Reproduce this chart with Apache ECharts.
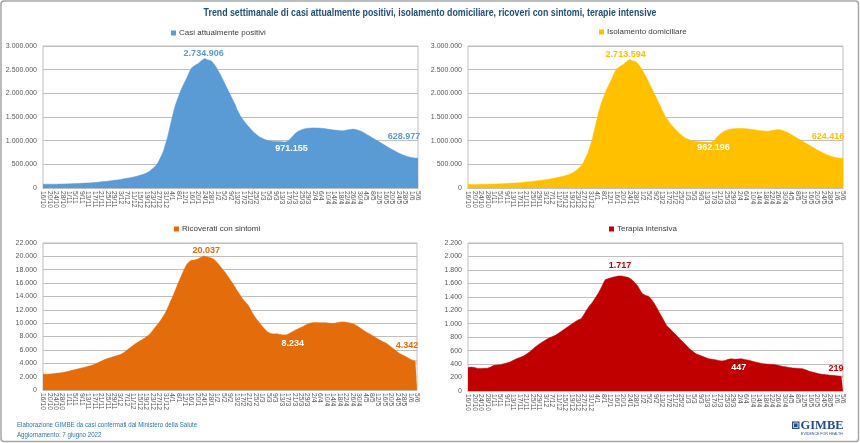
<!DOCTYPE html>
<html><head><meta charset="utf-8">
<script src="https://cdn.jsdelivr.net/npm/echarts@6/dist/echarts.min.js"></script>
<style>html,body{margin:0;padding:0;background:#fff}#c{width:860px;height:443px}</style>
</head><body><div id="c"></div>
<script>
const dates = [
'16/10','17/10','18/10','19/10','20/10','21/10','22/10','23/10','24/10','25/10','26/10','27/10','28/10','29/10','30/10','31/10',
'1/11','2/11','3/11','4/11','5/11','6/11','7/11','8/11','9/11','10/11','11/11','12/11','13/11','14/11','15/11','16/11','17/11','18/11','19/11','20/11','21/11','22/11','23/11','24/11','25/11','26/11','27/11','28/11','29/11','30/11',
'1/12','2/12','3/12','4/12','5/12','6/12','7/12','8/12','9/12','10/12','11/12','12/12','13/12','14/12','15/12','16/12','17/12','18/12','19/12','20/12','21/12','22/12','23/12','24/12','25/12','26/12','27/12','28/12','29/12','30/12','31/12',
'1/1','2/1','3/1','4/1','5/1','6/1','7/1','8/1','9/1','10/1','11/1','12/1','13/1','14/1','15/1','16/1','17/1','18/1','19/1','20/1','21/1','22/1','23/1','24/1','25/1','26/1','27/1','28/1','29/1','30/1','31/1',
'1/2','2/2','3/2','4/2','5/2','6/2','7/2','8/2','9/2','10/2','11/2','12/2','13/2','14/2','15/2','16/2','17/2','18/2','19/2','20/2','21/2','22/2','23/2','24/2','25/2','26/2','27/2','28/2',
'1/3','2/3','3/3','4/3','5/3','6/3','7/3','8/3','9/3','10/3','11/3','12/3','13/3','14/3','15/3','16/3','17/3','18/3','19/3','20/3','21/3','22/3','23/3','24/3','25/3','26/3','27/3','28/3','29/3','30/3','31/3',
'1/4','2/4','3/4','4/4','5/4','6/4','7/4','8/4','9/4','10/4','11/4','12/4','13/4','14/4','15/4','16/4','17/4','18/4','19/4','20/4','21/4','22/4','23/4','24/4','25/4','26/4','27/4','28/4','29/4','30/4',
'1/5','2/5','3/5','4/5','5/5','6/5','7/5','8/5','9/5','10/5','11/5','12/5','13/5','14/5','15/5','16/5','17/5','18/5','19/5','20/5','21/5','22/5','23/5','24/5','25/5','26/5','27/5','28/5','29/5','30/5','31/5',
'1/6','2/6','3/6','4/6','5/6'
];
const labelEvery = 4; // one date label every 4 days

const casiPositivi = [
80100,79600,79200,78900,78700,78800,79200,79800,80400,81000,
81900,82700,83600,84500,85400,86500,87600,88700,90000,91300,
92800,94300,95900,97600,99300,101200,103200,105300,107500,109800,
112200,114800,117500,120400,123400,126500,129800,133200,136800,140500,
144400,148500,152700,157100,161600,166300,171200,176300,181600,187100,
192800,198800,205000,211500,218200,225300,232700,240500,248800,257600,
267000,277300,288600,301000,316000,334000,356000,382000,410000,442000,
480000,530000,595000,665000,735000,835000,950000,1065000,1210000,1360000,
1500000,1640000,1760000,1860000,1950000,2040000,2120000,2190000,2260000,2330000,
2410000,2480000,2540000,2570000,2590000,2610000,2630000,2650000,2690000,2715000,
2734906,2720000,2705000,2712000,2690000,2660000,2610000,2560000,2500000,2440000,
2380000,2310000,2240000,2170000,2100000,2030000,1960000,1890000,1820000,1760000,
1660000,1600000,1530000,1480000,1430000,1390000,1340000,1300000,1265000,1230000,
1190000,1160000,1130000,1100000,1075000,1060000,1045000,1030000,1015000,1005000,
998000,995000,990000,986000,984000,985000,980000,977000,975000,973000,
971155,980000,1000000,1035000,1080000,1120000,1150000,1180000,1200000,1220000,
1232000,1243000,1252000,1258000,1262000,1265000,1268000,1270000,1270000,1268000,
1266000,1263000,1262000,1258000,1255000,1250000,1245000,1240000,1235000,1230000,
1225000,1222000,1218000,1215000,1212000,1210000,1212000,1218000,1225000,1232000,
1238000,1242000,1244000,1240000,1232000,1222000,1210000,1195000,1178000,1158000,
1138000,1118000,1097000,1075000,1055000,1035000,1015000,995000,975000,955000,
935000,915000,893000,872000,852000,832000,812000,793000,775000,758000,
741000,725000,710000,695000,682000,670000,660000,651000,644000,638000,
634000,631000,628977
];

const isolamentoDomiciliare = [
77370,76880,76490,76170,75960,76060,76440,77010,77580,78150,
79010,79780,80650,81510,82350,83370,84400,85440,86670,87910,
89350,90780,92320,93950,95580,97420,99350,101380,103500,105730,
108040,110550,113150,115940,118830,121790,124950,128220,131690,135270,
139060,143060,147170,151480,155890,160510,165320,170340,175540,180910,
186430,192240,198240,204540,211040,217940,225130,232750,240870,249500,
258750,268890,280030,292260,307090,324890,346660,372380,400070,431730,
469430,519090,583750,653360,722980,822540,937110,1051580,1196000,1345400,
1484820,1624230,1743590,1842940,1932290,2021690,2101140,2170580,2240070,2309610,
2389260,2459000,2518900,2548870,2568830,2588790,2608700,2628550,2668460,2693410,
2713594,2698390,2683440,2690540,2668630,2638760,2588930,2539170,2479460,2419770,
2360080,2290390,2220690,2151020,2081410,2011790,1942180,1872570,1802970,1743410,
1643850,1584300,1514690,1465080,1415450,1375770,1326000,1286330,1251750,1217220,
1177700,1148130,1118500,1088820,1064150,1049470,1034800,1020120,1005410,995660,
988850,985980,981060,977090,975080,976070,971120,968180,966230,964270,
962196,971270,991180,1026060,1070920,1110790,1140650,1170530,1190410,1210300,
1222180,1233050,1241910,1247780,1251670,1254580,1257510,1259460,1259420,1257400,
1255410,1252450,1251480,1247490,1244490,1239470,1234500,1229540,1224590,1219630,
1214640,1211610,1207550,1204500,1201450,1199420,1201400,1207420,1214450,1221500,
1227560,1231620,1233680,1229780,1221910,1212050,1200220,1185390,1168580,1148760,
1128950,1109060,1088180,1066310,1046440,1026610,1006770,986930,967080,947220,
927350,907480,885610,864740,844920,825110,805310,786500,768690,751880,
735070,719260,704390,689520,676660,664770,654910,646050,639190,633320,
629370,626410,624416
];

const ricoveratiConSintomi = [
2380,2370,2360,2370,2390,2400,2430,2460,2490,2520,
2550,2580,2610,2650,2700,2760,2820,2880,2940,3000,
3060,3120,3180,3240,3300,3360,3420,3480,3540,3600,
3680,3760,3850,3950,4060,4180,4300,4420,4530,4630,
4720,4800,4870,4940,5010,5080,5150,5220,5300,5420,
5580,5760,5950,6140,6330,6520,6710,6880,7040,7190,
7330,7470,7610,7760,7920,8100,8320,8580,8880,9200,
9500,9800,10100,10450,10800,11200,11600,12100,12650,13200,
13750,14300,14900,15500,16100,16650,17200,17750,18250,18700,
19050,19300,19400,19420,19450,19500,19600,19750,19850,19900,
20037,19950,19920,19850,19780,19680,19550,19350,19100,18800,
18500,18200,17900,17600,17250,16900,16550,16200,15850,15450,
15050,14650,14300,13950,13600,13300,13100,12800,12400,11950,
11500,11100,10750,10450,10150,9850,9550,9250,8980,8750,
8580,8470,8400,8380,8400,8420,8380,8320,8280,8250,
8234,8260,8350,8480,8620,8760,8900,9020,9140,9250,
9360,9480,9610,9740,9860,9950,10020,10070,10100,10120,
10110,10080,10060,10050,10060,10080,10060,10020,9980,9950,
9940,9980,10040,10100,10150,10180,10200,10180,10150,10100,
10050,10000,9940,9850,9720,9580,9420,9250,9070,8890,
8710,8600,8480,8350,8220,8060,7900,7740,7600,7470,
7350,7230,7100,6980,6800,6620,6430,6240,6060,5870,
5680,5500,5370,5240,5110,5000,4860,4720,4580,4460,
4410,4370,4342
];

const terapiaIntensiva = [
350,352,355,356,350,342,335,332,333,335,
337,339,340,342,355,370,381,384,387,389,
391,397,404,411,418,424,430,443,456,468,
480,489,498,506,515,530,546,563,579,600,
621,642,663,680,696,712,728,743,758,772,
787,797,807,817,827,843,859,875,891,908,
925,942,960,976,992,1009,1025,1040,1055,1068,
1074,1110,1150,1190,1225,1260,1290,1320,1355,1395,
1430,1470,1515,1565,1615,1658,1665,1672,1680,1688,
1693,1698,1703,1708,1717,1710,1705,1700,1695,1690,
1678,1662,1640,1615,1594,1560,1520,1480,1445,1430,
1420,1412,1406,1380,1345,1310,1272,1230,1185,1140,
1099,1055,1012,970,948,926,900,875,850,827,
800,775,752,728,705,680,655,629,610,590,
570,554,545,535,525,515,505,497,488,480,
476,472,468,465,460,455,451,447,449,452,
462,472,480,478,475,472,470,474,478,480,
476,470,465,460,455,449,442,436,430,425,
418,412,406,404,402,400,398,396,396,395,
390,385,380,375,370,366,362,358,354,348,
345,342,340,338,336,334,333,332,325,315,
305,295,288,282,276,270,264,258,253,248,
246,244,241,238,235,233,231,229,226,223,
221,220,219
];

const seriesNames = ['Casi attualmente positivi','Isolamento domiciliare','Ricoverati con sintomi','Terapia intensiva'];
const yMax = [3000000, 3000000, 22000, 2200];
const yStep = [500000, 500000, 2000, 200];

function fmt(n){ return String(n).replace(/\B(?=(\d{3})+(?!\d))/g, '.'); }

const FONT = '"Liberation Sans", Arial, sans-serif';
const colors = ['#5B9BD5', '#FFC000', '#E46C0A', '#C00000'];
const grids = [
  {left: 43, top: 46, width: 375, height: 142},
  {left: 468, top: 46, width: 375, height: 142},
  {left: 43, top: 243, width: 374, height: 147},
  {left: 468, top: 243, width: 375, height: 148}
];
const highlights = [
  {100: {c: colors[0], pos: 'top', d: 1, off: [-1, 0]}, 150: {c: '#fff', pos: 'bottom', d: 2, off: [6, 0]}, 232: {c: colors[0], pos: 'top', d: 5, off: [-14, -12]}},
  {100: {c: colors[1], pos: 'top', d: 1, off: [-4, 0]}, 150: {c: '#fff', pos: 'bottom', d: 1, off: [3, 0]}, 232: {c: colors[1], pos: 'top', d: 5, off: [-15, -12]}},
  {100: {c: colors[2], pos: 'top', d: 1, off: [2, 0]}, 150: {c: '#fff', pos: 'bottom', d: 2, off: [8, 2]}, 232: {c: colors[2], pos: 'top', d: 5, off: [-10, -6]}},
  {94: {c: colors[3], pos: 'top', d: 5, off: [0, 0]}, 157: {c: '#fff', pos: 'bottom', d: 2, off: [17, 0]}, 232: {c: colors[3], pos: 'top', d: 5, off: [-7, 2]}}
];
const allData = [casiPositivi, isolamentoDomiciliare, ricoveratiConSintomi, terapiaIntensiva];
const legendPos = [
  {left: 171, top: 29}, {left: 599, top: 28}, {left: 174, top: 225}, {left: 609, top: 225}
];

const option = {
  animation: false,
  backgroundColor: '#fff',
  grid: grids.map(g => Object.assign({show: true, borderColor: '#bfbfbf', borderWidth: 1, backgroundColor: 'transparent'}, g)),
  legend: seriesNames.map((n, k) => ({
    data: [n], left: legendPos[k].left, top: legendPos[k].top, itemWidth: 5, itemHeight: 5, icon: 'rect',
    itemGap: 4, padding: 0,
    textStyle: {fontSize: 8, color: '#404040', fontFamily: FONT, padding: [0, 0, 0, -2]}
  })),
  xAxis: seriesNames.map((n, k) => ({
    type: 'category', gridIndex: k, data: dates, boundaryGap: false,
    axisLine: {show: true, lineStyle: {color: '#bfbfbf'}},
    axisTick: {show: false},
    axisLabel: {interval: 0, rotate: -90, fontSize: 6.8, color: '#595959', fontFamily: FONT, margin: 3,
      formatter: (v, i) => (i % labelEvery === 0 ? v : '')},
    splitLine: {show: false}
  })),
  yAxis: seriesNames.map((n, k) => ({
    type: 'value', gridIndex: k, min: 0, max: yMax[k], interval: yStep[k],
    axisLine: {show: false}, axisTick: {show: false},
    axisLabel: {fontSize: 7, color: '#595959', fontFamily: FONT, margin: 6, formatter: v => fmt(v)},
    splitLine: {lineStyle: {color: '#bfbfbf', width: 1}}
  })),
  series: seriesNames.map((n, k) => ({
    name: n, type: 'line', xAxisIndex: k, yAxisIndex: k,
    symbol: 'none', showSymbol: true, showAllSymbol: true,
    color: colors[k],
    lineStyle: {width: 0.5, color: colors[k]},
    areaStyle: {color: colors[k], opacity: 1},
    data: allData[k].map((v, i) => {
      const h = highlights[k][i];
      if (!h) return v;
      return {value: v, symbol: 'circle', symbolSize: 0,
        label: {show: true, position: h.pos, distance: h.d, offset: h.off, color: h.c,
          fontSize: 9, fontWeight: 'bold', fontFamily: FONT, formatter: p => fmt(p.value)}};
    })
  })),
  graphic: [
    {type: 'rect', shape: {x: 1, y: 1, width: 857.5, height: 440.5, r: 3}, style: {fill: 'none', stroke: '#a6a6a6', lineWidth: 1.5}, silent: true},
    {type: 'text', x: 430, y: 13, scaleX: 0.88, style: {text: 'Trend settimanale di casi attualmente positivi, isolamento domiciliare, ricoveri con sintomi, terapie intensive',
      fill: '#1F4E79', fontSize: 10, fontWeight: 'bold', fontFamily: FONT, textAlign: 'center', textVerticalAlign: 'middle'}},
    {type: 'text', x: 17, y: 425, scaleX: 0.95, style: {text: 'Elaborazione GIMBE da casi confermati dal Ministero della Salute', fill: '#2E75B6', fontSize: 6.5, fontFamily: FONT, textVerticalAlign: 'middle'}},
    {type: 'text', x: 17, y: 435, scaleX: 0.95, style: {text: 'Aggiornamento: 7 giugno 2022', fill: '#2E75B6', fontSize: 6.5, fontFamily: FONT, textVerticalAlign: 'middle'}},
    {type: 'rect', shape: {x: 792, y: 421.5, width: 7.5, height: 7.5}, style: {fill: '#2B4C8C'}},
    {type: 'rect', shape: {x: 793.5, y: 423, width: 4.5, height: 4.5}, style: {fill: 'none', stroke: '#fff', lineWidth: 0.7}},
    {type: 'text', x: 800.5, y: 425.5, style: {text: 'GIMBE', fill: '#2B4C8C', fontSize: 12.5, fontWeight: 'bold', fontFamily: '"Liberation Serif", serif', textVerticalAlign: 'middle'}},
    {type: 'text', x: 801, y: 433.5, style: {text: 'EVIDENCE FOR HEALTH', fill: '#2B4C8C', fontSize: 3.6, fontFamily: FONT, textVerticalAlign: 'middle'}}
  ]
};
const chart = echarts.init(document.getElementById('c'), null, {renderer: 'canvas'});
chart.setOption(option);
</script>
</body></html>
